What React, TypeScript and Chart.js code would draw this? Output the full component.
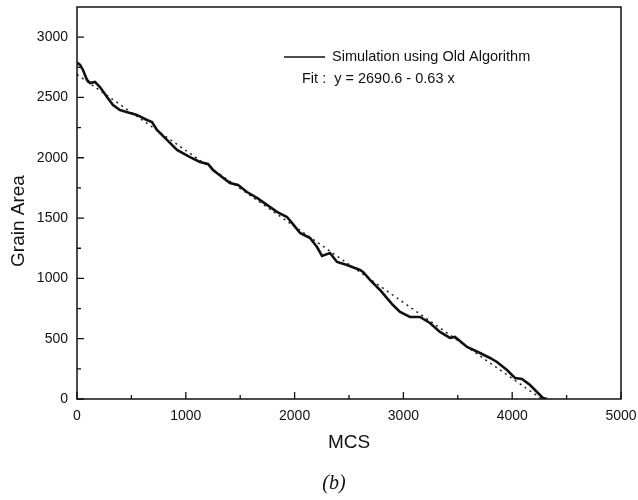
import React, { useEffect, useRef } from "react";
import { Chart, registerables } from "chart.js";

Chart.register(...registerables);

const simX = [0, 28, 55, 92, 120, 165, 211, 276, 331, 395, 487, 551, 643, 689, 735, 827, 919, 1039, 1130, 1204, 1250, 1333, 1406, 1480, 1562, 1654, 1746, 1838, 1930, 1985, 2050, 2142, 2206, 2252, 2325, 2390, 2482, 2601, 2629, 2693, 2785, 2849, 2904, 2969, 3061, 3153, 3244, 3336, 3428, 3474, 3585, 3704, 3796, 3860, 3952, 4026, 4090, 4164, 4237, 4283, 4320];
const simY = [2790, 2770, 2728, 2645, 2620, 2629, 2587, 2504, 2438, 2396, 2371, 2355, 2313, 2297, 2230, 2148, 2065, 2005, 1965, 1949, 1899, 1841, 1791, 1774, 1716, 1667, 1609, 1551, 1509, 1450, 1376, 1335, 1260, 1186, 1211, 1136, 1111, 1070, 1053, 987, 904, 837, 779, 721, 680, 680, 630, 556, 506, 514, 431, 381, 340, 307, 240, 174, 166, 116, 50, 8, 0];

const fitIntercept = 2690.6;
const fitSlope = -0.63;
const fitX = [0, 4271];

const xTicks = [0, 1000, 2000, 3000, 4000, 5000];
const xMinorTicks = [500, 1500, 2500, 3500, 4500];
const yTicks = [0, 500, 1000, 1500, 2000, 2500, 3000];
const yMinorTicks = [250, 750, 1250, 1750, 2250, 2750];

const legendLabel = "Simulation using Old Algorithm";
const fitLabel = "Fit :  y = 2690.6 - 0.63 x";
const xTitle = "MCS";
const yTitle = "Grain Area";
const panelLabel = "(b)";

const SANS = "'Liberation Sans', Arial, sans-serif";

export default function App() {
  const ref = useRef<HTMLCanvasElement | null>(null);

  useEffect(() => {
    if (!ref.current) return;
    const decor = {
      id: "decor",
      afterDraw(chart: any) {
        const { ctx, chartArea: a, scales } = chart;
        const xs = scales.x;
        const ys = scales.y;
        ctx.save();
        ctx.strokeStyle = "#111";
        ctx.lineWidth = 1.5;
        ctx.strokeRect(a.left, a.top, a.right - a.left, a.bottom - a.top);
        ctx.lineWidth = 1.3;
        ctx.beginPath();
        xTicks.forEach((v) => {
          const p = xs.getPixelForValue(v);
          ctx.moveTo(p, a.bottom);
          ctx.lineTo(p, a.bottom - 7);
        });
        xMinorTicks.forEach((v) => {
          const p = xs.getPixelForValue(v);
          ctx.moveTo(p, a.bottom);
          ctx.lineTo(p, a.bottom - 4);
        });
        yTicks.forEach((v) => {
          const p = ys.getPixelForValue(v);
          ctx.moveTo(a.left, p);
          ctx.lineTo(a.left + 7, p);
        });
        yMinorTicks.forEach((v) => {
          const p = ys.getPixelForValue(v);
          ctx.moveTo(a.left, p);
          ctx.lineTo(a.left + 4, p);
        });
        ctx.stroke();

        // legend
        ctx.lineWidth = 1.5;
        ctx.beginPath();
        ctx.moveTo(284, 57);
        ctx.lineTo(325, 57);
        ctx.stroke();
        ctx.fillStyle = "#111";
        ctx.font = `14.5px ${SANS}`;
        ctx.textBaseline = "middle";
        ctx.textAlign = "left";
        ctx.fillText(legendLabel, 332, 57);
        ctx.fillText(fitLabel, 302, 79);

        // axis titles
        ctx.font = `19px ${SANS}`;
        ctx.textAlign = "center";
        ctx.fillText(xTitle, (a.left + a.right) / 2, 443);
        ctx.save();
        ctx.translate(19, 221);
        ctx.rotate(-Math.PI / 2);
        ctx.fillText(yTitle, 0, 0);
        ctx.restore();

        ctx.font = `italic 20px 'Liberation Serif', 'DejaVu Serif', serif`;
        ctx.fillText(panelLabel, 334, 484);
        ctx.restore();
      },
    };

    const chart = new Chart(ref.current, {
      type: "line",
      data: {
        datasets: [
          {
            label: legendLabel,
            data: simX.map((x, i) => ({ x, y: simY[i] })),
            borderColor: "#111",
            borderWidth: 2.6,
            pointRadius: 0,
            tension: 0,
            fill: false,
          },
          {
            label: "Fit",
            data: fitX.map((x) => ({ x, y: fitIntercept + fitSlope * x })),
            borderColor: "#222",
            borderWidth: 1.5,
            borderDash: [2, 4],
            pointRadius: 0,
            fill: false,
          },
        ],
      },
      options: {
        responsive: false,
        animation: false,
        devicePixelRatio: 1,
        layout: { padding: { top: 7, right: 17, left: 0, bottom: 0 } },
        plugins: { legend: { display: false }, tooltip: { enabled: false } },
        scales: {
          x: {
            type: "linear",
            min: 0,
            max: 5000,
            grid: { display: false },
            border: { display: false },
            afterBuildTicks: (s: any) => {
              s.ticks = xTicks.map((v) => ({ value: v }));
            },
            afterFit: (s: any) => {
              s.height = 101;
              s.paddingLeft = 0;
              s.paddingRight = 0;
            },
            ticks: {
              padding: 1,
              maxRotation: 0,
              color: "#111",
              font: { family: SANS, size: 14 },
              callback: (v: any) => String(v),
            },
          },
          y: {
            type: "linear",
            min: 0,
            max: 3250,
            grid: { display: false },
            border: { display: false },
            afterBuildTicks: (s: any) => {
              s.ticks = yTicks.map((v) => ({ value: v }));
            },
            afterFit: (s: any) => {
              s.width = 77;
              s.paddingTop = 0;
              s.paddingBottom = 0;
            },
            ticks: {
              padding: 1,
              color: "#111",
              font: { family: SANS, size: 14 },
              callback: (v: any) => String(v),
            },
          },
        },
      },
      plugins: [decor],
    });
    return () => chart.destroy();
  }, []);

  return (
    <div style={{ position: "fixed", left: 0, top: 0, width: 638, height: 500, background: "#fff" }}>
      <canvas ref={ref} width={638} height={500} />
    </div>
  );
}
